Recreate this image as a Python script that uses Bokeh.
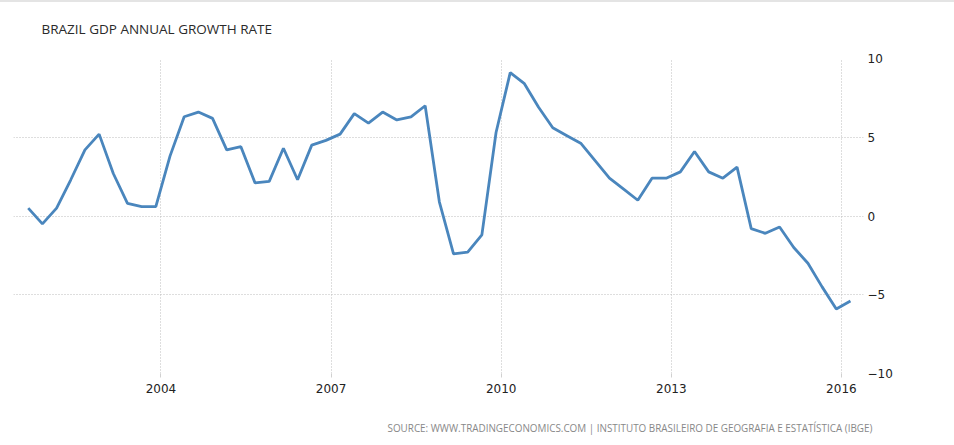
from bokeh.plotting import figure
from bokeh.models import FixedTicker, Range1d, LinearAxis, Title
from bokeh.embed import file_html
from bokeh.resources import INLINE

quarters = [
    "2001Q3", "2001Q4", "2002Q1", "2002Q2", "2002Q3", "2002Q4",
    "2003Q1", "2003Q2", "2003Q3", "2003Q4",
    "2004Q1", "2004Q2", "2004Q3", "2004Q4",
    "2005Q1", "2005Q2", "2005Q3", "2005Q4",
    "2006Q1", "2006Q2", "2006Q3", "2006Q4",
    "2007Q1", "2007Q2", "2007Q3", "2007Q4",
    "2008Q1", "2008Q2", "2008Q3", "2008Q4",
    "2009Q1", "2009Q2", "2009Q3", "2009Q4",
    "2010Q1", "2010Q2", "2010Q3", "2010Q4",
    "2011Q1", "2011Q2", "2011Q3", "2011Q4",
    "2012Q1", "2012Q2", "2012Q3", "2012Q4",
    "2013Q1", "2013Q2", "2013Q3", "2013Q4",
    "2014Q1", "2014Q2", "2014Q3", "2014Q4",
    "2015Q1", "2015Q2", "2015Q3", "2015Q4",
    "2016Q1",
]
growth = [
    0.5, -0.5, 0.5, 2.3, 4.2, 5.2,
    2.7, 0.8, 0.6, 0.6,
    3.8, 6.3, 6.6, 6.2,
    4.2, 4.4, 2.1, 2.2,
    4.3, 2.3, 4.5, 4.8,
    5.2, 6.5, 5.9, 6.6,
    6.1, 6.3, 7.0, 0.9,
    -2.4, -2.3, -1.2, 5.3,
    9.1, 8.4, 6.9, 5.6,
    5.1, 4.6, 3.5, 2.4,
    1.7, 1.0, 2.4, 2.4,
    2.8, 4.1, 2.8, 2.4,
    3.1, -0.8, -1.1, -0.7,
    -2.0, -3.0, -4.5, -5.9,
    -5.4,
]
x_ticks = [2004, 2007, 2010, 2013, 2016]
y_ticks = [-10, -5, 0, 5, 10]

title_text = "BRAZIL GDP ANNUAL GROWTH RATE"
source_text = "SOURCE: WWW.TRADINGECONOMICS.COM | INSTITUTO BRASILEIRO DE GEOGRAFIA E ESTATÍSTICA (IBGE)"

# decimal-year position of each quarterly observation
xs = [int(q[:4]) + (int(q[5]) - 1) * 0.25 + 0.16 for q in quarters]

p = figure(
    width=954, height=443,
    output_backend="svg", toolbar_location=None,
    x_range=Range1d(2001.40, 2016.39), y_range=Range1d(-10, 10),
    y_axis_location=None,
    min_border_left=13, min_border_right=91, min_border_top=56, min_border_bottom=72,
)
p.styles = {"border-top": "2px solid #e4e4e4"}
p.outline_line_color = None
p.background_fill_color = "white"
p.border_fill_color = "white"

p.line(xs, growth, line_color="#4a86bd", line_width=2.8)

# x axis
xa = p.xaxis[0]
xa.ticker = FixedTicker(ticks=x_ticks)
xa.axis_line_color = None
xa.major_tick_line_color = "#d0d0d0"
xa.major_tick_in = 0
xa.major_tick_out = 4
xa.minor_tick_line_color = None
xa.major_label_text_font = "DejaVu Sans"
xa.major_label_text_font_size = "12px"
xa.major_label_text_color = "#222222"
xa.major_label_standoff = 6

# right y axis
ya = LinearAxis(ticker=FixedTicker(ticks=y_ticks))
ya.axis_line_color = None
ya.major_tick_line_color = None
ya.major_tick_in = 0
ya.major_tick_out = 0
ya.minor_tick_line_color = None
ya.major_label_text_font = "DejaVu Sans"
ya.major_label_text_font_size = "12px"
ya.major_label_text_color = "#222222"
ya.major_label_standoff = 4
p.add_layout(ya, "right")

p.xgrid.ticker = FixedTicker(ticks=x_ticks)
p.ygrid.ticker = FixedTicker(ticks=y_ticks)
for g in (p.xgrid[0], p.ygrid[0]):
    g.grid_line_color = "#bdbdbd"
    g.grid_line_dash = "1 2"
    g.grid_line_width = 1

# spacer between frame and title, then the title itself
p.add_layout(Title(text=" ", text_font_size="1px", standoff=18), "above")
p.add_layout(Title(text=title_text, align="left", offset=28,
                   text_font="Open Sans", text_font_size="13.5px",
                   text_font_style="normal", text_color="#2a2a2a", standoff=0), "above")

# spacer below the x axis, then the source line
p.add_layout(Title(text=" ", text_font_size="1px", standoff=20), "below")
p.add_layout(Title(text=source_text, align="left", offset=374,
                   text_font="Open Sans", text_font_size="9.9px",
                   text_font_style="normal", text_color="#888888", standoff=0), "below")

open("out.html", "w").write(file_html(p, INLINE))
